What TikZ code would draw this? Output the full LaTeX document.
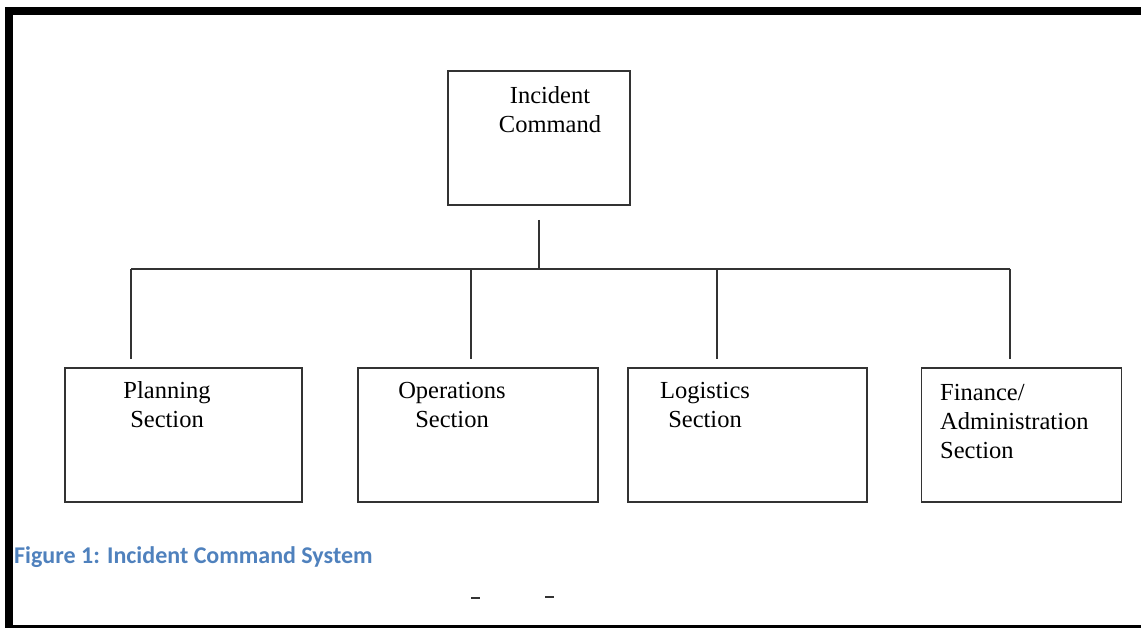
\documentclass[tikz,border=0pt]{standalone}
\usepackage{fontspec}
\setmainfont{Liberation Serif}
\newfontfamily\capfont{Carlito}
\definecolor{capblue}{HTML}{4F81BD}
\definecolor{ink}{HTML}{333333}
\begin{document}
\begin{tikzpicture}[x=1pt,y=-1pt,
  box/.style={draw=ink, line width=1.8pt, fill=white, rectangle, inner sep=0pt},
  conn/.style={draw=ink, line width=1.8pt},
  lbl/.style={font=\fontsize{24.5}{29.5}\selectfont, inner sep=0pt, align=center},
  lbll/.style={font=\fontsize{24.5}{29}\selectfont, inner sep=0pt, align=left},
  bar/.style={fill=black, draw=none}]
  \useasboundingbox (0,0) rectangle (1141,628);
  % page frame
  \fill[bar] (5,7) rectangle (1141,15);
  \fill[bar] (5,7) rectangle (13,628);
  \fill[bar] (5,625) rectangle (1141,628);

  % boxes
  \node[box, minimum width=182pt, minimum height=134pt] (ic) at (539,138) {};
  \node[box, minimum width=237pt, minimum height=134pt] (pl) at (183.5,435) {};
  \node[box, minimum width=240pt, minimum height=134pt] (op) at (478,435) {};
  \node[box, minimum width=239pt, minimum height=134pt] (lo) at (747.5,435) {};
  \node[box, minimum width=200pt, minimum height=134pt] (fi) at (1021.5,435) {};

  % labels (base anchor sits on the last line)
  \node[lbl, anchor=base] at (550,133) {Incident\\Command};
  \node[lbl, anchor=base] at (167,428) {Planning\\Section};
  \node[lbl, anchor=base] at (452,428) {Operations\\Section};
  \node[lbl, anchor=base] at (705,428) {Logistics\\Section};
  \node[lbll, anchor=base west] at (940,458) {Finance/\\Administration\\Section};

  % connectors
  \coordinate (stem) at (539,269);
  \coordinate (tapP) at (131,269);
  \coordinate (tapO) at (471,269);
  \coordinate (tapL) at (717,269);
  \coordinate (tapF) at (1010,269);
  \draw[conn] ([yshift=-14pt]ic.south) -- (stem);
  \draw[conn] (tapP) -- (tapF);
  \draw[conn] (tapP) -- ([yshift=8pt]tapP |- pl.north);
  \draw[conn] (tapO) -- ([yshift=8pt]tapO |- op.north);
  \draw[conn] (tapL) -- ([yshift=8pt]tapL |- lo.north);
  \draw[conn] (tapF) -- ([yshift=8pt]tapF |- fi.north);

  % caption
  \node[font=\capfont\bfseries\fontsize{24}{28}\selectfont, text=capblue,
        anchor=base west, inner sep=0pt] (cap) at (14,563) {Figure 1: Incident Command System};

  % stray marks
  \draw[ink, line width=1.5pt] (471,598) -- (480,598);
  \draw[ink, line width=1.5pt] (545,597) -- (554,597);
\end{tikzpicture}
\end{document}
